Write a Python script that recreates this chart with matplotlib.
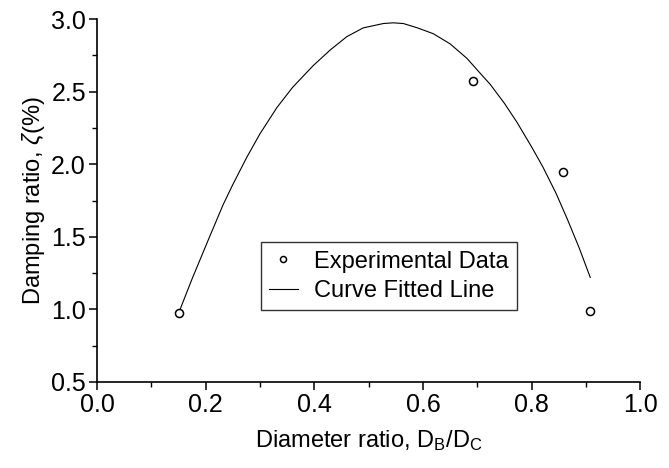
import matplotlib
matplotlib.use('Agg')
import matplotlib.pyplot as plt
from matplotlib.ticker import MultipleLocator

plt.rcParams['font.family'] = ['Liberation Sans', 'DejaVu Sans']
plt.rcParams['mathtext.fontset'] = 'custom'
plt.rcParams['mathtext.rm'] = 'Liberation Sans'
plt.rcParams['mathtext.it'] = 'Liberation Sans:italic'

exp_x = [0.151, 0.693, 0.858, 0.908]
exp_y = [0.975, 2.575, 1.945, 0.99]

# Curve fitted line
fit_x = [0.153, 0.175, 0.195, 0.205, 0.232, 0.25, 0.276, 0.30, 0.331, 0.36,
         0.398, 0.43, 0.46, 0.49, 0.527, 0.545, 0.564, 0.59, 0.619, 0.65,
         0.681, 0.70, 0.724, 0.75, 0.773, 0.80, 0.821, 0.845, 0.866, 0.888, 0.908]
fit_y = [1.00, 1.21, 1.39, 1.48, 1.72, 1.86, 2.05, 2.21, 2.39, 2.53,
         2.68, 2.79, 2.88, 2.94, 2.97, 2.975, 2.97, 2.94, 2.90, 2.83,
         2.73, 2.65, 2.55, 2.42, 2.29, 2.12, 1.98, 1.80, 1.62, 1.42, 1.22]

fig = plt.figure(figsize=(6.69, 4.68), dpi=100)
ax = fig.add_axes([0.145, 0.184, 0.812, 0.775])

ax.plot(exp_x, exp_y, 'o', mfc='white', mec='black', ms=5.8, mew=1.1,
        linestyle='none', label='Experimental Data', zorder=3)
ax.plot(fit_x, fit_y, '-', color='black', lw=0.8, label='Curve Fitted Line')

ax.set_xlim(0.0, 1.0)
ax.set_ylim(0.5, 3.0)
ax.xaxis.set_major_locator(MultipleLocator(0.2))
ax.xaxis.set_minor_locator(MultipleLocator(0.1))
ax.yaxis.set_major_locator(MultipleLocator(0.5))
ax.yaxis.set_minor_locator(MultipleLocator(0.25))
ax.xaxis.set_major_formatter(plt.FormatStrFormatter('%.1f'))
ax.yaxis.set_major_formatter(plt.FormatStrFormatter('%.1f'))

for side in ['top', 'right']:
    ax.spines[side].set_visible(False)
for side in ['left', 'bottom']:
    ax.spines[side].set_linewidth(1.2)

ax.tick_params(which='major', direction='out', length=6, width=1.1,
               labelsize=18, pad=2)
ax.tick_params(which='minor', direction='out', length=3.5, width=1.0)

ax.set_xlabel(r'Diameter ratio, D$_\mathrm{B}$/D$_\mathrm{C}$', fontsize=17, labelpad=8)
ax.set_ylabel(r'Damping ratio, $\zeta$(%)', fontsize=17, labelpad=3)

leg = ax.legend(loc='lower left', bbox_to_anchor=(0.302, 0.198), borderaxespad=0,
                fontsize=17, frameon=True, fancybox=False, edgecolor='black',
                handlelength=1.2, handletextpad=0.7, borderpad=0.35,
                labelspacing=0.3, markerscale=0.75)
leg.get_frame().set_linewidth(1.0)

fig.savefig('out.png', dpi=100, facecolor='white')
